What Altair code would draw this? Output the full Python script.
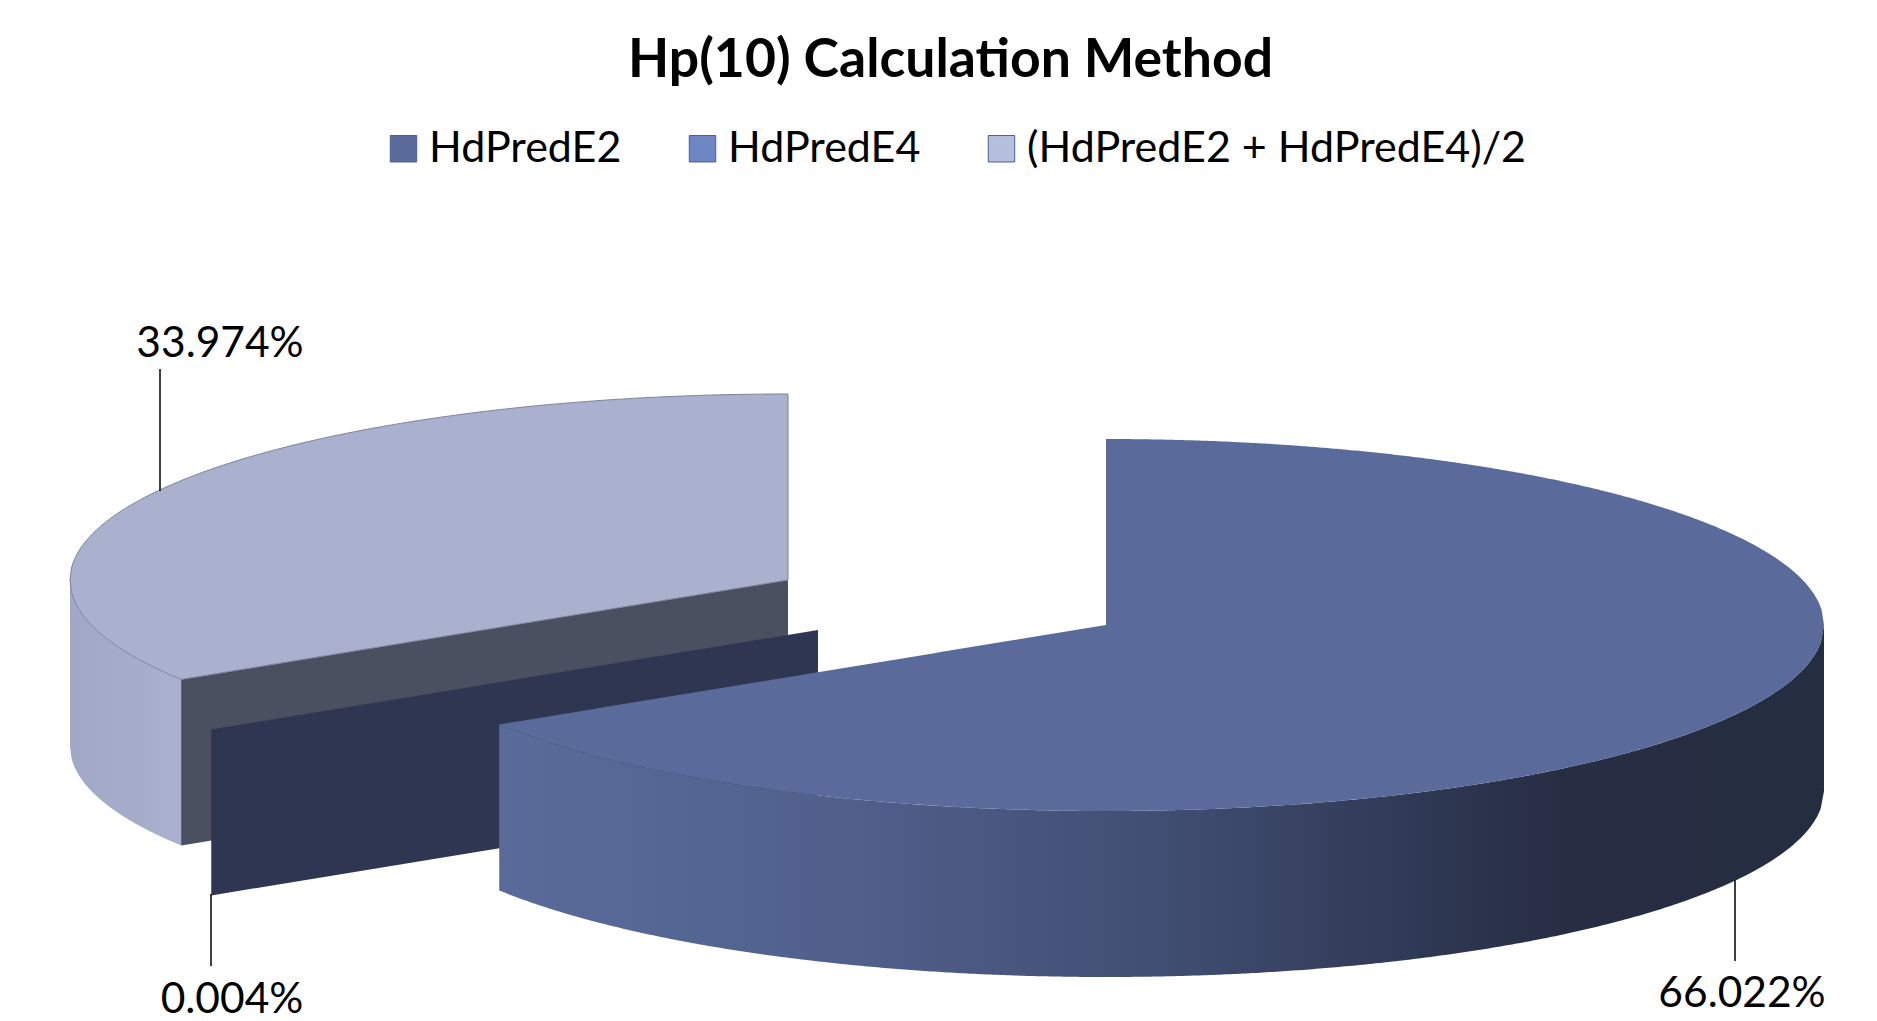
import numpy as np
import pandas as pd
import altair as alt

# ---------- chart values ----------
SERIES = ["HdPredE2", "HdPredE4", "(HdPredE2 + HdPredE4)/2"]
VALUES = [66.022, 0.004, 33.974]
LABELS = ["66.022%", "0.004%", "33.974%"]
LEGEND_COLORS = ["#5A6B9B", "#6F86C4", "#B4BEDD"]
TITLE = "Hp(10) Calculation Method"

# ---------- layout (page pixels; the x/y scales below map them 1:1) ----------
W, H = 1861, 1013
RX, RY, DEPTH = 718, 186, 166
CENTERS = [(1106, 625), (818, 630), (788, 580)]
LABEL_POS = [(1742, 994), (232, 1000), (220, 344)]
LEADERS = [(1735, 880, 961), (211, 894, 966), (160, 369, 491)]
FONT = "Lato"

xs = alt.Scale(domain=[8, 8 + W], range=[0, W], nice=False, zero=False)
ys = alt.Scale(domain=[8, 8 + H], range=[0, H], nice=False, zero=False)

ends = np.cumsum(VALUES) / 100 * 360
starts = np.concatenate([[0], ends[:-1]])


def pt(c, deg):
    r = np.radians(deg)
    return c[0] + RX * np.sin(r), c[1] - RY * np.cos(r)


def upper(c, x):
    return c[1] - RY * np.sqrt(np.clip(1 - ((x - c[0]) / RX) ** 2, 0, 1))


def lower(c, x):
    return c[1] + RY * np.sqrt(np.clip(1 - ((x - c[0]) / RX) ** 2, 0, 1))


def area_layer(xv, y0, y1, **mark):
    df = pd.DataFrame({"x": xv, "y": y0, "y2": y1})
    return alt.Chart(df).mark_area(orient="vertical", **mark).encode(
        x=alt.X("x:Q", scale=xs, axis=None),
        y=alt.Y("y:Q", scale=ys, axis=None, stack=None),
        y2="y2:Q",
    )


def grad(stops):
    return alt.Gradient(
        gradient="linear", x1=0, x2=1, y1=0, y2=0,
        stops=[alt.GradientStop(offset=o, color=c) for o, c in stops],
    )


layers = []

# --- third slice (light), drawn first: it is the farthest back
c = CENTERS[2]
xe, ye = pt(c, starts[2])
xr = np.linspace(c[0] - RX, xe, 80)
layers.append(area_layer(xr, lower(c, xr), lower(c, xr) + DEPTH,
                         color=grad([(0, "#A0A8C6"), (1, "#A9B1CF")])))
xw = np.array([xe, c[0]])
yw = np.array([ye, c[1]])
layers.append(area_layer(xw, yw, yw + DEPTH, color="#4B5060"))
xa = np.linspace(c[0] - RX, xe, 80)
xb = np.linspace(xe, c[0], 200)[1:]
xt = np.concatenate([xa, xb])
yb = np.concatenate([lower(c, xa), ye + (c[1] - ye) * (xb - xe) / (c[0] - xe)])
layers.append(area_layer(xt, upper(c, xt), yb, color="#A9B1CE",
                         stroke="#7C829A", strokeWidth=1))

# --- second slice: only its radial wall can be seen
c = CENTERS[1]
xe, ye = pt(c, starts[1])
xw = np.array([xe, c[0]])
yw = np.array([ye, c[1]])
layers.append(area_layer(xw, yw, yw + DEPTH, color="#2E3652"))

# --- first slice
c = CENTERS[0]
xe, ye = pt(c, ends[0])
xr = np.linspace(xe, c[0] + RX, 400)
layers.append(area_layer(xr, lower(c, xr), lower(c, xr) + DEPTH, color=grad([
    (0, "#5A6B9B"), (0.25, "#51618C"), (0.5, "#414E73"),
    (0.7, "#2F3853"), (0.8, "#272E44"), (1, "#252D40"),
])))
xa = np.linspace(xe, c[0], 100)
xb = np.linspace(c[0] + 0.01, c[0] + RX, 300)
xt = np.concatenate([xa, xb])
yu = np.concatenate([ye + (c[1] - ye) * (xa - xe) / (c[0] - xe), upper(c, xb)])
layers.append(area_layer(xt, yu, lower(c, xt), color="#5A6B9B"))

# --- leader lines and labels
lead = pd.DataFrame(LEADERS, columns=["x", "y", "y2"])
layers.append(alt.Chart(lead).mark_rule(color="#000000", strokeWidth=1.5).encode(
    x=alt.X("x:Q", scale=xs, axis=None),
    y=alt.Y("y:Q", scale=ys, axis=None),
    y2="y2:Q",
))
lab = pd.DataFrame({"t": LABELS, "x": [p[0] for p in LABEL_POS], "y": [p[1] for p in LABEL_POS]})
layers.append(alt.Chart(lab).mark_text(
    font=FONT, fontSize=42.5, color="#000000", align="center", baseline="middle"
).encode(
    x=alt.X("x:Q", scale=xs, axis=None),
    y=alt.Y("y:Q", scale=ys, axis=None),
    text="t:N",
))

# --- legend (a native legend, carried by an invisible layer)
leg = pd.DataFrame({"s": SERIES, "x": [500.0] * 3, "y": [500.0] * 3})
layers.append(alt.Chart(leg).mark_square(opacity=0, size=1).encode(
    x=alt.X("x:Q", scale=xs, axis=None),
    y=alt.Y("y:Q", scale=ys, axis=None),
    color=alt.Color("s:N", scale=alt.Scale(domain=SERIES, range=LEGEND_COLORS), sort=SERIES,
        legend=alt.Legend(
            title=None, orient="none", legendX=374, legendY=119, columns=3, columnPadding=59,
            symbolType="square", symbolSize=700, symbolOpacity=1, symbolStrokeColor="#4A5F96",
            symbolStrokeWidth=1, labelFont=FONT, labelFontSize=43, labelColor="#000000",
            labelOffset=4, labelLimit=700, padding=0,
        )),
))

chart = alt.layer(*layers).properties(
    width=W, height=H, padding=0,
    autosize=alt.AutoSizeParams(type="none"),
    title=alt.TitleParams(TITLE, font=FONT, fontSize=53.5, fontWeight="bold", color="#000000",
                          anchor="middle", dx=12, dy=122, offset=0, baseline="alphabetic"),
).configure_view(stroke=None)

chart.save("out.html", embed_options={"renderer": "svg", "actions": False})
